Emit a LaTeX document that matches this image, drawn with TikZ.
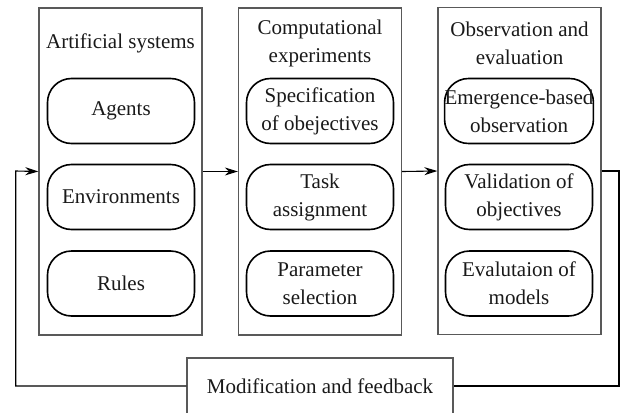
\documentclass[tikz,border=0pt]{standalone}
\usepackage{fontspec}
\setmainfont{Liberation Serif}
\usetikzlibrary{arrows.meta}
\begin{document}
\begin{tikzpicture}[x=1pt,y=-1pt,
  panel/.style={draw=black!65, line width=1.3pt, minimum width=163pt, minimum height=327pt, inner sep=0pt},
  item/.style={draw=black, line width=1.6pt, rounded corners=24pt, minimum width=147pt, minimum height=65pt, inner sep=0pt, align=center, font=\fontsize{21}{28}\selectfont, text=black!90},
  head/.style={align=center, font=\fontsize{21}{28}\selectfont, text=black!90},
  link/.style={line width=1.1pt, -{Stealth[length=13pt,width=8pt]}},
  fbline/.style={line width=1.1pt}]
\useasboundingbox (0,0) rectangle (620,412);

% three stage panels
\node[panel] (p1) at (120.5,171.5) {};
\node[panel] (p2) at (320,171.5) {};
\node[panel] (p3) at (519.5,171) {};

% panel headings
\node[head] (h1) at (120.5,43) {Artificial systems};
\node[head] (h2) at (320,43.5) {Computational\\experiments};
\node[head] (h3) at (519.5,43.5) {Observation and\\evaluation};

% artificial systems
\node[item] (a1) at (121,111) {Agents};
\node[item] (a2) at (121,197) {Environments};
\node[item] (a3) at (121,283.5) {Rules};

% computational experiments
\node[item] (b1) at (320,111) {Specification\\of obejectives};
\node[item] (b2) at (320,197) {Task\\assignment};
\node[item] (b3) at (320,283.5) {Parameter\\selection};

% observation and evaluation
\node[item] (c1) at (519,111) {Emergence-based\\observation};
\node[item] (c2) at (519,197) {Validation of\\objectives};
\node[item] (c3) at (519,283.5) {Evalutaion of\\models};

% feedback box
\node[draw=black!65, line width=1.3pt, minimum width=266pt, minimum height=56pt, inner sep=0pt,
      font=\fontsize{21}{28}\selectfont, text=black!90] (fb) at (320,386) {Modification and feedback};

% forward flow
\draw[link] (p1.east) -- (p2.west);
\draw[link] (p2.east) -- (p3.west);

% feedback loop
\coordinate (r1) at (619,171);
\coordinate (l1) at (15.7,171);
\draw[fbline] (p3.east) -- (r1) |- (fb.east);
\draw[link] (fb.west) -| (l1) -- (p1.west);
\end{tikzpicture}
\end{document}
